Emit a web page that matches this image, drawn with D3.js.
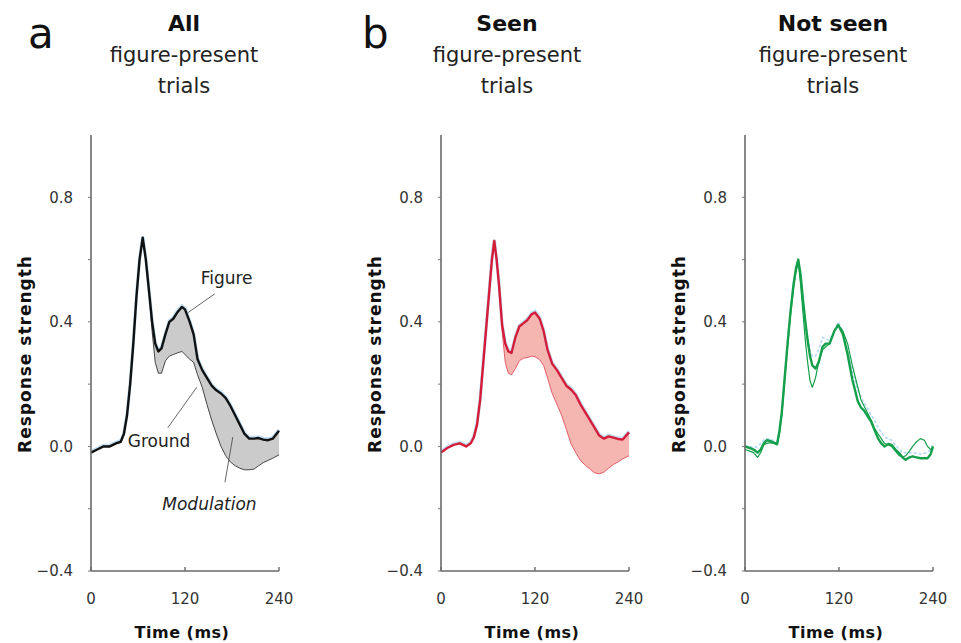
<!DOCTYPE html>
<html><head><meta charset="utf-8">
<script src="https://cdn.jsdelivr.net/npm/d3@7"></script>
<style>body{margin:0;background:#fff}svg{display:block}text{font-family:"DejaVu Sans",sans-serif}</style>
</head><body><svg id="c" width="961" height="643"></svg>
<script>
// ---------- data ----------
const xTicks = [0, 120, 240];
const yTickLabels = [0.8, 0.4, 0.0, -0.4];
const yMinorTicks = [0.8, 0.6, 0.4, 0.2, 0.0, -0.2, -0.4];

const timeA   = [0,8,16,24,32,38,42,46,50,54,58,62,66,70,74,78,82,86,90,95,100,105,110,116,120,126,131,136,142,148,154,160,166,172,178,184,190,196,202,208,214,220,226,232,240];
const figureA = [-0.02,-0.01,0.0,0.0,0.01,0.015,0.04,0.10,0.20,0.33,0.48,0.60,0.67,0.60,0.50,0.40,0.33,0.305,0.315,0.36,0.40,0.41,0.43,0.448,0.44,0.40,0.36,0.28,0.245,0.22,0.195,0.18,0.17,0.155,0.13,0.10,0.07,0.04,0.025,0.025,0.027,0.022,0.02,0.025,0.05];
const groundA = [-0.02,-0.01,0.0,0.0,0.01,0.015,0.04,0.10,0.20,0.33,0.48,0.60,0.67,0.60,0.50,0.37,0.27,0.235,0.235,0.275,0.29,0.295,0.30,0.305,0.295,0.28,0.27,0.23,0.19,0.135,0.085,0.04,0.0,-0.03,-0.05,-0.062,-0.07,-0.075,-0.075,-0.073,-0.062,-0.052,-0.045,-0.038,-0.027];

const timeB   = [0,8,16,24,32,38,42,46,50,54,58,62,65,68,71,74,78,82,86,90,95,100,105,110,116,120,126,131,136,142,148,154,160,166,172,178,184,190,196,202,208,214,220,226,232,240];
const figureB = [-0.02,-0.005,0.005,0.01,0.0,0.01,0.03,0.07,0.15,0.27,0.39,0.51,0.60,0.66,0.60,0.52,0.39,0.33,0.305,0.30,0.35,0.385,0.395,0.405,0.425,0.43,0.41,0.37,0.31,0.265,0.245,0.22,0.195,0.183,0.165,0.135,0.11,0.085,0.06,0.035,0.025,0.032,0.028,0.024,0.022,0.045];
const groundB = [-0.02,-0.005,0.005,0.01,0.0,0.01,0.03,0.07,0.15,0.27,0.39,0.51,0.60,0.66,0.60,0.52,0.37,0.27,0.235,0.23,0.25,0.275,0.283,0.285,0.29,0.288,0.278,0.26,0.22,0.17,0.135,0.10,0.055,0.008,-0.02,-0.045,-0.06,-0.072,-0.085,-0.088,-0.083,-0.07,-0.058,-0.05,-0.04,-0.03];

const timeC   = [0,6,11,16,20,24,28,32,36,41,44,47,50,54,58,62,65,68,71,74,77,80,83,86,90,94,99,103,108,114,119,125,131,137,144,148,152,157,161,165,170,174,178,183,187,192,197,201,205,210,214,219,224,229,233,237,240];
const figureC = [0.0,-0.005,-0.01,-0.02,-0.01,0.01,0.02,0.018,0.013,0.008,0.05,0.11,0.20,0.32,0.43,0.52,0.57,0.60,0.55,0.47,0.40,0.34,0.29,0.26,0.25,0.27,0.32,0.33,0.33,0.37,0.39,0.36,0.295,0.215,0.145,0.125,0.115,0.095,0.08,0.055,0.025,0.01,0.0,0.008,0.005,-0.01,-0.022,-0.035,-0.043,-0.035,-0.032,-0.035,-0.038,-0.038,-0.038,-0.025,0.0];
const groundC = [-0.01,-0.015,-0.02,-0.035,-0.02,0.005,0.01,0.012,0.01,0.005,0.04,0.10,0.19,0.31,0.42,0.51,0.56,0.59,0.52,0.43,0.34,0.27,0.21,0.19,0.22,0.27,0.31,0.32,0.33,0.37,0.39,0.37,0.33,0.26,0.19,0.15,0.13,0.105,0.085,0.06,0.04,0.025,0.01,0.005,0.0,-0.015,-0.03,-0.035,-0.03,-0.015,0.0,0.015,0.025,0.02,0.0,-0.01,-0.005];
const blueC   = [0.0,0.0,-0.005,0.0,0.01,0.02,0.025,0.022,0.02,0.015,0.06,0.12,0.21,0.33,0.44,0.53,0.58,0.60,0.55,0.48,0.41,0.35,0.31,0.29,0.29,0.31,0.35,0.345,0.34,0.37,0.40,0.37,0.31,0.24,0.18,0.16,0.14,0.12,0.10,0.085,0.06,0.045,0.03,0.025,0.02,0.005,-0.01,-0.02,-0.02,-0.02,-0.02,-0.022,-0.025,-0.022,-0.02,-0.01,0.01];

const panelTitles = ["All", "Seen", "Not seen"];
const subtitle = ["figure-present", "trials"];
const panelLetters = ["a", "b"];
const annotations = [
  {text:"Figure", t:140, v:0.52, italic:false, l1:[158,0.49], l2:[124,0.43]},
  {text:"Ground", t:47, v:-0.002, italic:false, l1:[98,0.06], l2:[135,0.19]},
  {text:"Modulation", t:91, v:-0.205, italic:true, l1:[171,-0.115], l2:[181,0.03]}
];

// ---------- layout ----------
const svg = d3.select("#c");
const plotW = 188, yTop = 135, yBot = 571;
const panels = [
  {x0:91,  titleX:184, time:timeA, fig:figureA, gnd:groundA, line:"#111", fill:"#cbcbcb", gndStroke:"#333", halo:true},
  {x0:441, titleX:507, time:timeB, fig:figureB, gnd:groundB, line:"#d51d3a", fill:"#f5b6b1", gndStroke:"#e0505e", halo:true},
  {x0:745, titleX:833, time:timeC, fig:figureC, gnd:groundC, blue:blueC, line:"#14a04a", fill:null, gndStroke:"#14a04a", halo:false}
];
const y = d3.scaleLinear().domain([-0.4, 1.0]).range([yBot, yTop]);

panels.forEach((p, i) => {
  const x = d3.scaleLinear().domain([0, 240]).range([p.x0, p.x0 + plotW]);
  const g = svg.append("g");
  const idx = d3.range(p.time.length);

  if (p.fill) {
    g.append("path").datum(idx)
      .attr("d", d3.area().x(k => x(p.time[k])).y0(k => y(p.gnd[k])).y1(k => y(p.fig[k])))
      .attr("fill", p.fill);
  }
  const lineGen = arr => d3.line().x(k => x(p.time[k])).y(k => y(arr[k]));
  if (p.halo) {
    g.append("path").datum(idx).attr("d", lineGen(p.fig)).attr("fill","none")
      .attr("stroke","#c2e1f7").attr("stroke-width",3.2).attr("transform","translate(0,-1.2)");
  }
  if (p.blue) {
    g.append("path").datum(idx).attr("d", lineGen(p.blue)).attr("fill","none")
      .attr("stroke","#b5d8f3").attr("stroke-width",1.6).attr("stroke-dasharray","3,2");
  }
  g.append("path").datum(idx).attr("d", lineGen(p.gnd)).attr("fill","none")
    .attr("stroke", p.gndStroke).attr("stroke-width", i===2 ? 1.2 : 0.9).attr("stroke-linejoin","round");
  g.append("path").datum(idx).attr("d", lineGen(p.fig)).attr("fill","none")
    .attr("stroke", p.line).attr("stroke-width", 2.4).attr("stroke-linejoin","round");

  // axes
  g.append("line").attr("x1",p.x0).attr("x2",p.x0).attr("y1",yTop).attr("y2",yBot)
    .attr("stroke","#6a6a6a").attr("stroke-width",1.6);
  g.append("line").attr("x1",p.x0).attr("x2",p.x0+plotW).attr("y1",yBot).attr("y2",yBot)
    .attr("stroke","#6a6a6a").attr("stroke-width",1.6);
  yMinorTicks.forEach(v => g.append("line").attr("x1",p.x0-3).attr("x2",p.x0).attr("y1",y(v)).attr("y2",y(v))
    .attr("stroke","#777").attr("stroke-width",1));
  xTicks.forEach(t => g.append("line").attr("x1",x(t)).attr("x2",x(t)).attr("y1",yBot).attr("y2",yBot-4)
    .attr("stroke","#6a6a6a").attr("stroke-width",1.4));
  yTickLabels.forEach(v => g.append("text").attr("x",p.x0-18).attr("y",y(v)).attr("dy","0.36em")
    .attr("text-anchor","end").attr("font-size",15).attr("fill","#333")
    .text(v < 0 ? "\u2212" + d3.format(".1f")(-v) : d3.format(".1f")(v)));
  xTicks.forEach(t => g.append("text").attr("x",x(t)).attr("y",604).attr("text-anchor","middle")
    .attr("font-size",15).attr("fill","#333").text(t));
  g.append("text").attr("x",p.x0+plotW/2 - 3).attr("y",638).attr("text-anchor","middle")
    .attr("font-size",16).attr("font-weight","bold").attr("letter-spacing",0.5).attr("fill","#111").text("Time (ms)");
  g.append("text").attr("transform",`translate(${p.x0-60},354) rotate(-90)`).attr("text-anchor","middle")
    .attr("font-size",17).attr("font-weight","bold").attr("letter-spacing",1).attr("fill","#111").text("Response strength");

  // titles
  g.append("text").attr("x",p.titleX).attr("y",31).attr("text-anchor","middle")
    .attr("font-size",22).attr("font-weight","bold").attr("fill","#111").text(panelTitles[i]);
  subtitle.forEach((s, j) => g.append("text").attr("x",p.titleX).attr("y",62 + j*31).attr("text-anchor","middle")
    .attr("font-size",21).attr("fill","#222").text(s));

  if (i === 0) {
    annotations.forEach(a => {
      g.append("line").attr("x1",x(a.l1[0])).attr("y1",y(a.l1[1])).attr("x2",x(a.l2[0])).attr("y2",y(a.l2[1]))
        .attr("stroke","#555").attr("stroke-width",0.9);
      g.append("text").attr("x",x(a.t)).attr("y",y(a.v)).attr("font-size",17)
        .attr("font-style",a.italic?"italic":"normal").attr("fill","#222").text(a.text);
    });
  }
});
svg.append("text").attr("x",28).attr("y",48).attr("font-size",42).attr("fill","#111").text(panelLetters[0]);
svg.append("text").attr("x",362).attr("y",48).attr("font-size",42).attr("fill","#111").text(panelLetters[1]);
</script></body></html>
